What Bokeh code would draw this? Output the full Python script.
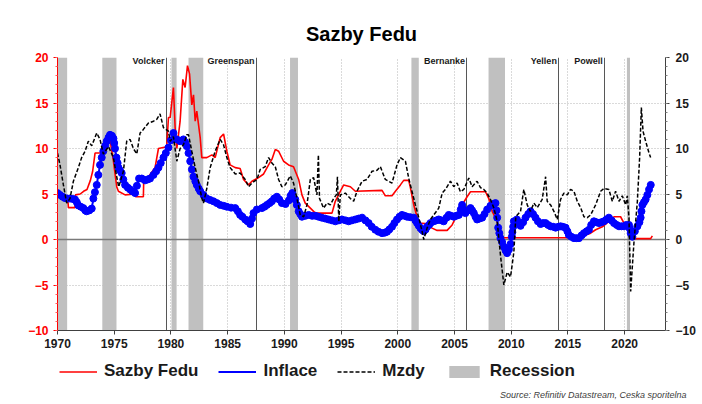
from bokeh.plotting import figure
from bokeh.layouts import column
from bokeh.models import Legend, LegendItem, LinearAxis, FixedTicker, Label, Title
from bokeh.embed import file_html
from bokeh.resources import INLINE

FONT = "Liberation Sans"
NAN = float("nan")

# ---------------- data ----------------
fed_year = [1970.0, 1970.9, 1970.96, 1971.54, 1971.58, 1972.0, 1972.3, 1972.6, 1972.9, 1973.1, 1973.31,
            1974.19, 1974.22, 1974.63, 1974.93, 1975.22, 1975.37, 1975.96, 1976.84, 1976.88, 1977.57, 1977.6,
            1978.02, 1978.6, 1978.9, 1979.63, 1979.78,
            1979.93, 1980.22, 1980.37, 1980.52, 1980.81, 1981.05, 1981.25, 1981.46, 1981.64, 1981.84, 1981.99,
            1982.14, 1982.28, 1982.58, 1982.72,
            1983.16, 1983.61, 1983.9, 1984.34, 1984.64, 1984.93, 1985.22, 1985.67, 1986.1, 1986.4, 1986.84,
            1987.14, 1987.43, 1987.72, 1988.17, 1988.61, 1988.9, 1989.2, 1989.49, 1989.93, 1990.37, 1990.81,
            1991.26, 1991.55, 1991.84, 1992.29, 1992.73, 1994.2, 1994.49, 1994.93, 1995.23, 1995.82, 1996.26,
            1998.61, 1998.9, 1999.49, 1999.79, 2000.23, 2000.52, 2000.96,
            2001.11, 2001.41, 2001.85, 2002.44, 2003.02, 2003.47, 2004.35, 2004.79, 2005.23, 2005.67, 2006.11,
            2006.41, 2007.73, 2008.02, 2008.32, 2008.76, 2008.91, 2009.05,
            2015.38, 2016.26, 2017.0, 2017.44, 2018.03, 2018.61, 2019.06, 2019.64, 2019.94, 2020.23, 2020.53,
            2022.29, 2022.44]
fed_rate = [5.0, 4.6, 3.5, 3.5, 4.9, 5.0, 5.3, 5.5, 6.5, 7.5, 9.5,
            9.5, 11.0, 11.0, 8.6, 5.8, 5.3, 4.9, 5.0, 4.7, 4.7, 6.4,
            6.9, 7.9, 10.0, 10.2, 13.4,
            13.4, 16.7, 12.3, 10.0, 13.0, 17.6, 16.7, 19.1, 18.2, 14.8, 15.9,
            13.0, 14.1, 11.2, 9.0,
            9.0, 9.3, 9.0, 11.2, 11.6, 9.7, 8.2, 7.9, 7.8, 6.6, 6.0,
            6.4, 6.6, 6.8, 7.2, 8.2, 8.8, 9.9, 9.7, 8.6, 8.2, 8.0,
            6.6, 4.9, 4.0, 3.45, 2.9, 2.9, 4.2, 5.3, 6.0, 5.8, 5.3,
            5.4, 4.8, 4.8, 5.3, 6.0, 6.5, 6.5,
            5.7, 3.8, 1.8, 1.75, 1.25, 1.0, 1.0, 1.6, 2.7, 3.8, 4.7,
            5.25, 5.25, 4.5, 3.1, 2.0, 1.0, 0.2,
            0.2, 0.35, 0.7, 1.07, 1.4, 2.0, 2.5, 2.5, 1.8, 1.6, 0.1,
            0.1, 0.4]

infl_year = [1970.0, 1970.22, 1970.45, 1970.66, 1970.9, 1971.1, 1971.35, 1971.54, 1971.7, 1971.84,
             1972.05, 1972.28, 1972.45, 1972.57, 1972.8, 1973.02, 1973.16, 1973.3, 1973.46, 1973.6,
             1973.75, 1973.9, 1974.04, 1974.2, 1974.34, 1974.5, 1974.63, 1974.8, 1974.93, 1975.0,
             1975.07, 1975.2, 1975.3, 1975.37, 1975.5, 1975.66, 1975.8, 1975.96, 1976.2, 1976.4,
             1976.6, 1976.84, 1977.0, 1977.19, 1977.43, 1977.72, 1977.95, 1978.16, 1978.46, 1978.7,
             1978.9, 1979.1, 1979.34, 1979.55, 1979.78, 1980.0, 1980.22, 1980.52, 1980.81, 1981.1,
             1981.25, 1981.4, 1981.55, 1981.7, 1981.85, 1981.99, 1982.15, 1982.28, 1982.45, 1982.58,
             1982.87, 1983.16, 1983.45, 1983.75, 1984.05, 1984.34, 1984.65, 1984.93, 1985.3, 1985.67,
             1985.9, 1986.1, 1986.3, 1986.55, 1986.75, 1986.99, 1987.15, 1987.28, 1987.58, 1988.02,
             1988.25, 1988.46, 1988.7, 1988.9, 1989.1, 1989.34, 1989.55, 1989.78, 1990.1, 1990.4,
             1990.55, 1990.7, 1990.96, 1991.1, 1991.26, 1991.4, 1991.55, 1991.85, 1992.14, 1992.45,
             1992.75, 1993.02, 1993.3, 1993.6, 1993.9, 1994.2, 1994.49, 1994.8, 1995.08, 1995.4,
             1995.67, 1995.95, 1996.26, 1996.55, 1996.85, 1997.15, 1997.43, 1997.7, 1998.02, 1998.3,
             1998.61, 1998.85, 1999.05, 1999.25, 1999.49, 1999.7, 1999.93, 2000.15, 2000.37, 2000.6,
             2000.82, 2001.1, 2001.41, 2001.55, 2001.7, 2001.85, 2002.0, 2002.15, 2002.29, 2002.45,
             2002.58, 2002.75, 2002.88, 2003.17, 2003.4, 2003.61, 2003.85, 2004.05, 2004.3, 2004.49,
             2004.7, 2004.94, 2005.15, 2005.38, 2005.55, 2005.67, 2005.8, 2005.96, 2006.2, 2006.41,
             2006.55, 2006.7, 2006.85, 2006.99, 2007.2, 2007.44, 2007.65, 2007.88, 2008.17, 2008.4,
             2008.61, 2008.7, 2008.76, 2008.85, 2008.95, 2009.05, 2009.2, 2009.35, 2009.5, 2009.64,
             2009.8, 2009.94, 2010.05, 2010.1, 2010.17, 2010.23, 2010.5, 2010.65, 2010.82, 2011.05,
             2011.26, 2011.5, 2011.7, 2011.92, 2012.14, 2012.35, 2012.59, 2012.8, 2013.03, 2013.25,
             2013.47, 2013.7, 2013.91, 2014.15, 2014.35, 2014.55, 2014.79, 2014.95, 2015.08, 2015.3,
             2015.53, 2015.75, 2015.97, 2016.2, 2016.41, 2016.65, 2016.85, 2017.05, 2017.29, 2017.5,
             2017.73, 2017.95, 2018.17, 2018.4, 2018.61, 2018.85, 2019.06, 2019.3, 2019.5, 2019.72,
             2019.94, 2020.15, 2020.38, 2020.45, 2020.53, 2020.68, 2020.9, 2021.12, 2021.3, 2021.41,
             2021.48, 2021.56, 2021.7, 2021.85, 2022.0, 2022.15, 2022.3]
infl_rate = [5.1, 4.9, 4.7, 4.55, 4.5, 4.5, 4.45, 4.4, 4.1, 3.75,
             3.6, 3.45, 3.2, 3.1, 3.2, 3.4, 4.5, 5.2, 6.0, 7.1,
             8.2, 9.0, 9.7, 10.3, 10.8, 11.2, 11.5, 11.4, 11.1, 10.6,
             10.0, 9.0, 8.4, 7.9, 7.6, 7.3, 6.6, 6.0, 5.7, 5.5,
             5.3, 5.1, 5.9, 6.7, 6.7, 6.5, 6.6, 6.7, 7.1, 7.5,
             7.9, 8.4, 9.0, 9.5, 10.1, 10.9, 11.7, 11.0, 10.8, 11.0,
             10.7, 10.25, 9.5, 8.6, 7.7, 6.9, 6.4, 6.0, 5.6, 5.3,
             4.9, 4.5, 4.35, 4.2, 4.0, 3.8, 3.7, 3.6, 3.5, 3.45,
             3.1, 2.7, 2.5, 2.2, 2.0, 1.7, 2.3, 2.9, 3.3, 3.45,
             3.6, 3.8, 4.0, 4.2, 4.5, 4.7, 4.4, 4.0, 3.9, 4.3,
             4.8, 5.1, 4.4, 3.8, 3.1, 2.8, 2.5, 2.6, 2.7, 2.6,
             2.6, 2.5, 2.4, 2.3, 2.2, 2.1, 2.0, 2.1, 2.2, 2.1,
             2.0, 2.1, 2.2, 2.3, 2.4, 2.1, 1.8, 1.4, 1.07, 0.85,
             0.7, 0.75, 0.85, 1.1, 1.4, 1.8, 2.2, 2.5, 2.7, 2.6,
             2.5, 2.45, 2.4, 2.1, 1.8, 1.5, 1.25, 1.05, 0.9, 1.1,
             1.4, 1.6, 1.8, 2.0, 2.1, 2.2, 2.1, 2.0, 2.4, 2.7,
             2.6, 2.5, 2.6, 2.7, 3.3, 3.8, 3.3, 2.9, 3.2, 3.45,
             3.2, 2.9, 2.5, 2.2, 2.3, 2.4, 2.8, 3.3, 3.7, 3.9,
             4.0, 3.2, 2.4, 1.3, 0.7, 0.15, -0.3, -0.8, -1.2, -1.5,
             -1.1, -0.5, 0.3, 0.8, 1.4, 2.0, 2.2, 1.8, 1.5, 1.9,
             2.4, 2.8, 3.1, 2.8, 2.4, 2.0, 1.7, 1.8, 1.8, 1.6,
             1.45, 1.4, 1.3, 1.4, 1.45, 1.4, 1.3, 0.9, 0.5, 0.3,
             0.15, 0.15, 0.15, 0.45, 0.7, 0.9, 1.07, 1.6, 2.0, 1.9,
             1.8, 1.9, 2.0, 2.2, 2.4, 2.1, 1.8, 1.6, 1.45, 1.45,
             1.45, 1.6, 1.6, 1.2, 0.7, 0.3, 0.9, 1.45, 1.9, 2.4,
             3.1, 3.8, 4.1, 4.4, 4.9, 5.5, 6.0]

wage_year = [1970.0, 1970.22, 1970.52, 1970.81, 1971.1, 1971.4, 1971.84, 1972.13, 1972.43, 1972.72,
             1973.02, 1973.46, 1973.75, 1974.04, 1974.5, 1974.93, 1975.2, 1975.4, 1975.81, 1976.1,
             1976.4, 1976.69, 1976.99, 1977.28, 1977.57, 1978.02, 1978.46, 1978.75, 1979.04, 1979.34,
             1979.78, 1979.93, 1980.22, 1980.52,
             1980.81, 1981.1, 1981.4, 1981.55, 1981.84, 1982.14, 1982.43, 1982.72, 1982.87, 1983.16,
             1983.46, 1983.9, 1984.34, 1984.64, 1984.93, 1985.22, 1985.67, 1986.1, 1986.55, 1986.84,
             1987.14, 1987.58, 1987.87, 1988.31, 1988.61, 1988.9, 1989.2, 1989.49, 1989.78, 1990.08,
             1990.52, 1990.81, 1991.11, 1991.4, 1991.7, 1991.99, 1992.29, 1992.58, 1992.87, 1993.0,
             1993.1, 1993.46, 1993.76, 1994.05, 1994.34, 1994.58, 1994.68, 1994.8, 1994.93, 1995.38,
             1995.82, 1996.11, 1996.4, 1996.85, 1997.29, 1997.73, 1998.17, 1998.46, 1998.9, 1999.49,
             1999.93, 2000.23, 2000.67, 2000.96,
             2001.26, 2001.55, 2001.85, 2002.14, 2002.29, 2002.58, 2002.88, 2003.17, 2003.61, 2003.91,
             2004.2, 2004.64, 2004.94, 2005.23, 2005.52, 2005.82, 2006.26, 2006.55, 2006.99, 2007.29,
             2007.58, 2007.88, 2008.17, 2008.47, 2008.76, 2009.05, 2009.35, 2009.64, 2009.94, 2010.23,
             2010.4, 2010.82, 2011.11, 2011.41, 2011.7, 2012.0, 2012.29, 2012.73, 2013.03, 2013.17,
             2013.47, 2013.76, 2014.06, 2014.35, 2014.64, 2014.94, 2015.23, 2015.53, 2015.82, 2016.12,
             2016.41, 2016.7, 2017.0, 2017.44, 2017.88, 2018.17, 2018.61, 2018.91, 2019.2, 2019.5,
             2019.79, 2020.09, 2020.23, 2020.38, 2020.53, 2020.82, 2021.12, 2021.32, 2021.47, 2021.62,
             2021.85, 2022.15, 2022.29]
wage_growth = [9.5, 8.2, 6.0, 4.0, 4.5, 6.4, 7.9, 9.0, 9.7, 10.8,
               10.3, 11.7, 11.0, 9.4, 10.2, 9.0, 7.0, 5.8, 7.5, 10.8,
               11.0, 10.0, 9.4, 11.7, 12.1, 12.8, 13.0, 13.2, 13.8, 12.3,
               11.9, 10.8, 11.3, 8.6,
               10.0, 10.4, 11.5, 11.5, 9.7, 7.9, 6.4, 4.55, 4.0, 5.6,
               7.9, 9.7, 11.0, 10.4, 9.0, 7.9, 7.2, 7.3, 6.6, 5.8,
               6.2, 6.6, 7.7, 8.0, 9.0, 8.4, 8.0, 6.6, 5.8, 6.0,
               7.0, 6.2, 4.5, 2.7, 2.5, 3.8, 6.6, 6.8, 4.9, 9.3,
               4.5, 3.45, 4.0, 3.8, 4.5, 4.9, 6.9, 2.0, 4.9, 5.1,
               4.5, 4.2, 5.3, 6.4, 6.6, 7.5, 7.6, 8.0, 6.6, 6.2,
               8.2, 9.0, 8.6, 6.75,
               5.25, 3.8, 2.4, 0.9, 0.0, 1.25, 2.2, 2.7, 3.45, 5.1,
               5.5, 6.4, 5.8, 6.2, 5.25, 5.5, 6.75, 5.8, 6.4, 5.7,
               5.5, 5.1, 4.4, 3.45, 2.0, -1.7, -5.0, -3.6, -4.1, -1.4,
               2.5, 3.1, 5.5, 3.8, 3.1, 4.0, 3.5, 4.4, 6.9, 4.2,
               3.8, 3.1, 2.2, 4.4, 5.1, 4.9, 5.5, 5.3, 4.2, 3.5,
               2.5, 2.4, 2.7, 3.8, 5.3, 5.6, 5.5, 4.2, 5.3, 4.2,
               4.8, 3.8, 4.8, 2.4, -5.7, -0.3, 4.2, 9.0, 14.5, 11.9,
               10.8, 9.5, 9.0]

rec_start = [1969.9, 1973.95, 1980.05, 1981.55, 1990.5, 2001.2, 2008.0, 2020.2]
rec_end = [1970.85, 1975.2, 1980.5, 1982.85, 1991.2, 2001.85, 2009.45, 2020.47]

event_year = [1979.6, 1987.55, 2006.1, 2014.2, 2018.25]
event_name = ["Volcker", "Greenspan", "Bernanke", "Yellen", "Powell"]

x_ticks = [1970, 1975, 1980, 1985, 1990, 1995, 2000, 2005, 2010, 2015, 2020]
y_ticks = [-10, -5, 0, 5, 10, 15, 20]
y_minor = list(range(-10, 21))

X0, X1 = 1970, 2023.6
Y0, Y1 = -10, 20

# ---------------- title strip ----------------
# frame aligned with the main chart: 1 data unit = 1 pixel
t = figure(width=700, height=45, x_range=(57, 665), y_range=(0, 45),
           output_backend="svg", toolbar_location=None,
           x_axis_type=None, y_axis_type=None,
           min_border_left=57, min_border_right=35, min_border_top=0, min_border_bottom=0)
t.outline_line_color = None
t.grid.visible = False
t.add_layout(Label(x=361, y=12, text="Sazby Fedu", text_align="center", text_baseline="middle",
                   text_font=FONT, text_font_size="20px", text_font_style="bold",
                   text_color="#000000"))

# ---------------- main figure ----------------
p = figure(width=700, height=311, x_range=(X0, X1), y_range=(Y0, Y1),
           output_backend="svg", toolbar_location=None,
           min_border_left=57, min_border_right=35, min_border_top=12, min_border_bottom=26)
p.outline_line_color = None

# grid
p.xgrid.ticker = FixedTicker(ticks=x_ticks)
p.ygrid.ticker = FixedTicker(ticks=y_ticks)
for g in (p.xgrid, p.ygrid):
    g.grid_line_color = "#b4b4b4"
    g.grid_line_dash = "1 2"
    g.grid_line_width = 1

# x axis
xa = p.xaxis[0]
xa.ticker = FixedTicker(ticks=x_ticks)
xa.axis_line_color = "#404040"
xa.major_tick_line_color = "#404040"
xa.major_tick_out = 4
xa.major_tick_in = 0
xa.major_label_standoff = 4
xa.major_label_text_font = FONT
xa.major_label_text_font_size = "12px"
xa.major_label_text_font_style = "bold"
xa.major_label_text_color = "#1a1a1a"

# left axis (red)
ya = p.yaxis[0]
ya.ticker = FixedTicker(ticks=y_ticks, minor_ticks=y_minor)
ya.axis_line_color = "#ff0000"
ya.major_tick_line_color = "#ff0000"
ya.minor_tick_line_color = "#ff6060"
ya.major_tick_out = 4
ya.major_tick_in = 0
ya.minor_tick_out = 2
ya.minor_tick_in = 0
ya.major_label_standoff = 5
ya.major_label_text_font = FONT
ya.major_label_text_font_size = "12px"
ya.major_label_text_font_style = "bold"
ya.major_label_text_color = "#ff0000"

# right axis (black)
ra = LinearAxis(ticker=FixedTicker(ticks=y_ticks, minor_ticks=y_minor))
ra.axis_line_color = "#404040"
ra.major_tick_line_color = "#404040"
ra.minor_tick_line_color = "#808080"
ra.major_tick_out = 4
ra.major_tick_in = 0
ra.minor_tick_out = 2
ra.minor_tick_in = 0
ra.major_label_standoff = 6
ra.major_label_text_font = FONT
ra.major_label_text_font_size = "12px"
ra.major_label_text_font_style = "bold"
ra.major_label_text_color = "#1a1a1a"
p.add_layout(ra, "right")

# recessions
p.quad(left=rec_start, right=rec_end, bottom=Y0, top=Y1, fill_color="#c0c0c0", line_color=None)

# zero line and chair lines
p.hspan(y=[0], line_color="#7a7a7a", line_width=1.5)
p.vspan(x=event_year, line_color="#3a3a3a", line_width=1, line_alpha=0.85)

for yr, nm in zip(event_year, event_name):
    p.add_layout(Label(x=yr, y=19.6, text=nm, text_align="right", text_baseline="middle",
                       x_offset=-2, text_font=FONT, text_font_size="9px",
                       text_font_style="bold", text_color="#1a1a1a"))

# series
p.line(fed_year, fed_rate, line_color="#ff0000", line_width=1.6)
p.line(infl_year, infl_rate, line_color="#0000ff", line_width=2)
p.scatter(infl_year, infl_rate, size=7, marker="circle", fill_color="#0000ff", line_color="#0000ff")
p.line(wage_year, wage_growth, line_color="#000000", line_width=1.5, line_dash="4 2")

# ---------------- legend strip (below the chart) ----------------
q = figure(width=700, height=44, x_range=(57, 665), y_range=(0, 31),
           output_backend="svg", toolbar_location=None,
           x_axis_type=None, y_axis_type=None,
           min_border_left=57, min_border_right=35, min_border_top=0, min_border_bottom=13)
q.outline_line_color = None
q.grid.visible = False

# legend proxies (no visible data)
l_red = q.line([NAN], [NAN], line_color="#ff0000", line_width=1.6)
l_blue = q.line([NAN], [NAN], line_color="#0000ff", line_width=2)
l_black = q.line([NAN], [NAN], line_color="#000000", line_width=1.5, line_dash="4 2")
l_rec = q.quad(left=[NAN], right=[NAN], top=[NAN], bottom=[NAN], fill_color="#c0c0c0", line_color=None)

legend = Legend(items=[
    LegendItem(label="Sazby Fedu", renderers=[l_red]),
    LegendItem(label="Inflace", renderers=[l_blue]),
    LegendItem(label="Mzdy", renderers=[l_black]),
    LegendItem(label="Recession", renderers=[l_rec]),
], orientation="horizontal", location=(2, 6))
legend.label_text_font = FONT
legend.label_text_font_size = "17px"
legend.label_text_font_style = "bold"
legend.label_text_color = "#1a1a1a"
legend.glyph_width = 38
legend.glyph_height = 15
legend.label_standoff = 7
legend.spacing = 20
legend.padding = 0
legend.margin = 0
legend.border_line_color = None
legend.background_fill_alpha = 0
q.add_layout(legend, "center")

src = Title(text="Source: Refinitiv Datastream, Ceska sporitelna", align="right",
            text_font=FONT, text_font_size="9px", text_font_style="italic",
            text_color="#404040", offset=-21, standoff=0)
q.add_layout(src, "below")

layout = column(t, p, q, spacing=0)
open("out.html", "w").write(file_html(layout, INLINE))
